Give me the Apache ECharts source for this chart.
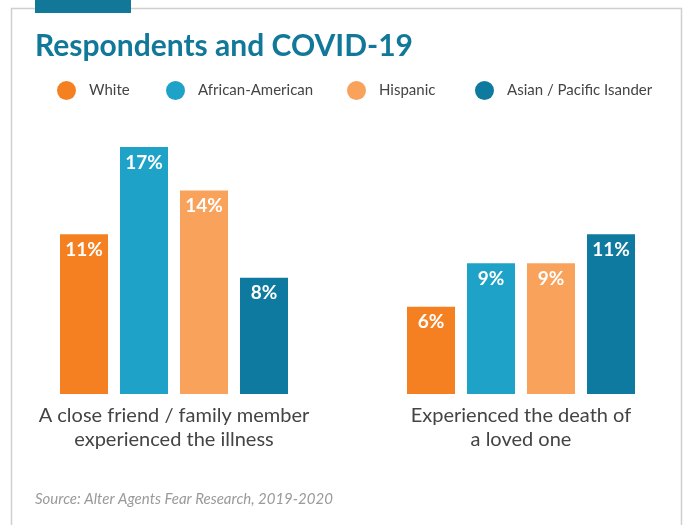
<!DOCTYPE html>
<html>
<head>
<meta charset="utf-8">
<script src="https://cdn.jsdelivr.net/npm/echarts@6/dist/echarts.min.js"></script>
<style>
  html, body { margin: 0; padding: 0; background: #fff; }
  #chart { width: 686px; height: 525px; }
</style>
</head>
<body>
<div id="chart"></div>
<script>
// Survey categories and per-group shares (percent)
const categories = [
  'A close friend / family member\nexperienced the illness',
  'Experienced the death of\na loved one'
];
const groupNames = ['White', 'African-American', 'Hispanic', 'Asian / Pacific Isander'];
const white = [11, 6];
const africanAmerican = [17, 9];
const hispanic = [14, 9];
const asianPacific = [8, 11];
const groupColors = ['#f58022', '#1fa2c8', '#f8a25c', '#0e7a9f'];

const FONT = 'Lato';
const values = [white, africanAmerican, hispanic, asianPacific];
const legendLeft = [57, 166, 347, 475];

const chart = echarts.init(document.getElementById('chart'), null, { renderer: 'canvas' });

const series = groupNames.map((name, i) => ({
  name: name,
  type: 'bar',
  data: values[i],
  barWidth: 48,
  barGap: '25%',
  itemStyle: { color: groupColors[i] },
  label: {
    show: true,
    position: 'insideTop',
    distance: 6,
    formatter: '{c}%',
    color: '#fff',
    fontFamily: FONT,
    fontWeight: 'bold',
    fontSize: 19
  },
  emphasis: { disabled: true }
}));

const legends = groupNames.map((name, i) => ({
  data: [name],
  left: legendLeft[i],
  top: 81,
  padding: 0,
  icon: 'circle',
  itemWidth: 19,
  itemHeight: 19,
  selectedMode: false,
  textStyle: {
    color: '#444',
    fontFamily: FONT,
    fontSize: 15,
    padding: [0, 0, 0, 8]
  }
}));

chart.setOption({
  animation: false,
  title: {
    text: 'Respondents and COVID-19',
    left: 35,
    top: 31,
    padding: 0,
    textStyle: {
      color: '#12789a',
      fontFamily: FONT,
      fontWeight: 'bold',
      fontSize: 30
    }
  },
  legend: legends,
  // the plot band is a little wider than the canvas so that both groups sit where they should
  grid: {
    left: 0.5,
    top: 147,
    width: 694,
    height: 247,
    containLabel: false,
    outerBoundsMode: 'none'
  },
  xAxis: {
    type: 'category',
    data: categories,
    axisLine: { show: false },
    axisTick: { show: false },
    axisLabel: {
      color: '#444',
      fontFamily: FONT,
      fontSize: 20,
      lineHeight: 24,
      margin: 10,
      interval: 0
    }
  },
  yAxis: {
    type: 'value',
    min: 0,
    max: 17,
    show: false,
    splitLine: { show: false }
  },
  series: series,
  graphic: [
    {
      type: 'rect',
      shape: { x: 11.5, y: 8.5, width: 670, height: 540 },
      style: { fill: 'none', stroke: '#cfcfcf', lineWidth: 1.5 },
      silent: true
    },
    {
      type: 'rect',
      shape: { x: 35, y: 0, width: 96, height: 13 },
      style: { fill: '#12789a' },
      silent: true
    },
    {
      type: 'text',
      left: 35,
      top: 492,
      style: {
        text: 'Source: Alter Agents Fear Research, 2019-2020',
        fill: '#9a9a9a',
        font: 'italic 15px Lato'
      },
      silent: true
    }
  ]
});
</script>
</body>
</html>
